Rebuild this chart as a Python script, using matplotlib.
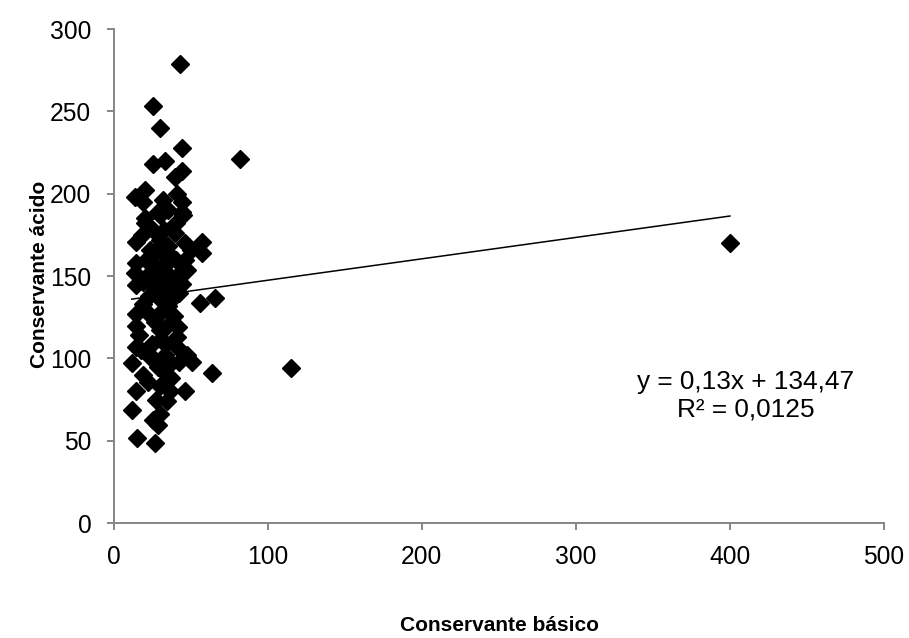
import matplotlib.pyplot as plt

plt.rcParams['font.family'] = ['Liberation Sans', 'DejaVu Sans']

# conservante básico (x) vs conservante ácido (y)
basico = [43.2, 25.7, 30.2, 44.3, 82.3, 25.7, 33.5, 44.2, 39.6, 13.8, 20.5, 19.4, 32.4, 41, 44.2,
          29.1, 44.2, 20.5, 20.5, 30.2, 45.3, 25.7, 14.8, 18.3, 39.9, 30.2, 57.2, 50.5, 57.2, 46.4,
          23.7, 32.3, 14.8, 25.7, 34.7, 13.8, 23.7, 32.3, 43.2, 47.5, 19.4, 30.2, 38.6,
          14.8, 25.7, 38.6, 56.2, 65.9, 38.6, 19.4, 30.2, 14.8, 21.8, 39, 14.8, 42, 30.2, 16.3, 41,
          24.7, 33.7, 14.8, 41, 47.5, 23.7, 33.7,
          11.8, 50.7, 63.7, 23.7, 33.7, 14.8, 22.6, 30.2, 46.4, 34.7, 11.8, 25.7, 30.2, 29.1, 15, 26.9,
          115, 400,
          27.7, 35.6, 37.6, 28.7, 36.6, 32.7, 27.7, 35.6, 30.7, 26.7, 34.7, 30.7, 37.6, 28.7, 18.8,
          37.6, 32.7, 42.6, 20.8, 46.6,
          22.8, 32.7, 40.6, 35.6, 17.8, 42.6, 36.6, 27.7, 40.6, 44.6]
acido = [279, 253, 240, 227.5, 221, 218, 220, 214, 210, 198, 202, 195, 196, 200, 195,
         189, 189, 185, 182, 187, 187, 178, 171, 175, 176, 172, 171, 166, 164, 160,
         166, 164, 158, 158, 158, 152, 152, 153, 152, 154, 146.5, 148, 146.5,
         144.5, 144, 143.5, 133.4, 136.4, 137, 133, 136, 127, 128, 126, 120, 119, 117, 114, 113,
         109, 109, 107, 107, 102, 102, 102,
         97, 98, 91, 101, 99, 80, 86, 83, 80, 74, 69, 62.5, 66, 59.5, 51.4, 48.4,
         94, 170,
         165, 168, 162, 155, 150, 142, 140, 132, 128, 122, 120, 112, 97, 95, 90,
         88, 92, 140, 160, 170,
         138, 178, 182, 190, 105, 98, 80, 75, 160, 145]

# linear trend as reported by the fit
pendiente = 0.13
intercepto = 134.47

fig = plt.figure(figsize=(9.09, 6.38), dpi=100)
ax = fig.add_axes([0.1249, 0.180, 0.8476, 0.7745])

ax.plot(basico, acido, linestyle='none', marker='D', markersize=9.5,
        color='black', zorder=3)

xs = [min(basico), max(basico)]
ax.plot(xs, [pendiente * v + intercepto for v in xs], color='black', linewidth=1.1, zorder=4)

ax.set_xlim(0, 500)
ax.set_ylim(0, 300)
ax.set_xticks(range(0, 501, 100))
ax.set_yticks(range(0, 301, 50))

for side in ['top', 'right']:
    ax.spines[side].set_visible(False)
for side in ['left', 'bottom']:
    ax.spines[side].set_color('#868686')
    ax.spines[side].set_linewidth(1.4)
ax.tick_params(colors='#868686', labelcolor='black', labelsize=17.7,
               length=5, width=1.4, direction='out')
ax.tick_params(axis='x', pad=10.7)
ax.tick_params(axis='y', pad=11)

ax.text(410, 81.5, 'y = 0,13x + 134,47', ha='center', va='baseline', fontsize=18.9)
ax.text(410, 64.8, 'R² = 0,0125', ha='center', va='baseline', fontsize=18.9)

fig.text(0.55, 0.019, 'Conservante básico', ha='center', va='center',
         fontsize=15, fontweight='bold')
fig.text(0.043, 0.57, 'Conservante ácido', ha='center', va='center',
         rotation=90, fontsize=15, fontweight='bold')

plt.savefig('out.png', dpi=100)
